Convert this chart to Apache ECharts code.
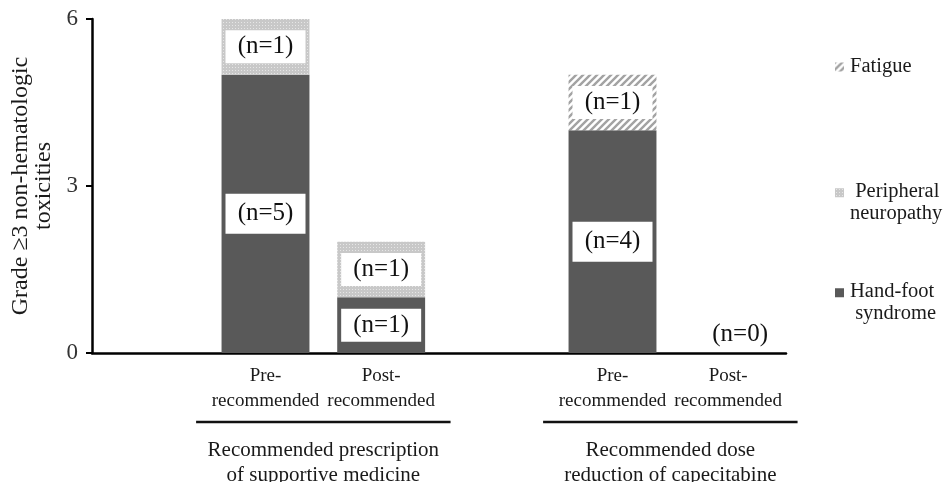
<!DOCTYPE html>
<html>
<head>
<meta charset="utf-8">
<script src="https://cdn.jsdelivr.net/npm/echarts@6/dist/echarts.min.js"></script>
<style>
  html, body { margin: 0; padding: 0; background: #fff; }
  #chart { width: 945px; height: 482px; }
</style>
</head>
<body>
<div id="chart"></div>
<script>
const categories = ['', 'Pre-\nrecommended', 'Post-\nrecommended', '', 'Pre-\nrecommended', 'Post-\nrecommended'];
const handFoot = [null, 5, 1, null, 4, 0];
const peripheral = [null, 1, 1, null, null, null];
const fatigue = [null, null, null, null, 1, null];
const yTicks = [0, 3, 6];
const groupLabels = ['Recommended prescription\nof supportive medicine', 'Recommended dose\nreduction of capecitabine'];
const groupSpans = [[1, 2], [4, 5]];

const FONT = '"Liberation Serif", "Times New Roman", serif';

// fill patterns
function dotPattern() {
  const c = document.createElement('canvas');
  c.width = 3; c.height = 3;
  const g = c.getContext('2d');
  g.fillStyle = '#c8c8c8';
  g.fillRect(0, 0, 3, 3);
  g.fillStyle = '#e6e6e6';
  g.fillRect(1, 1, 1, 1);
  return c;
}
function hatchPattern() {
  const c = document.createElement('canvas');
  c.width = 7; c.height = 7;
  const g = c.getContext('2d');
  g.fillStyle = '#fff';
  g.fillRect(0, 0, 7, 7);
  g.strokeStyle = '#a3a3a3';
  g.lineWidth = 2.4;
  g.beginPath();
  g.moveTo(-1, 8); g.lineTo(8, -1);
  g.moveTo(-1, 1); g.lineTo(1, -1);
  g.moveTo(6, 8); g.lineTo(8, 6);
  g.stroke();
  return c;
}

const colors = {
  handFoot: '#595959',
  peripheral: { image: dotPattern(), repeat: 'repeat' },
  fatigue: { image: hatchPattern(), repeat: 'repeat' }
};

const boxLabel = {
  show: true,
  position: 'inside',
  formatter: (p) => '(n=' + p.value + ')',
  backgroundColor: '#fff',
  color: '#111',
  fontFamily: FONT,
  fontSize: 25,
  width: 80,
  height: 33,
  lineHeight: 33,
  align: 'center',
  verticalAlign: 'middle'
};

// taller label boxes on the tall segments, bare text on the empty bar
function withLabels(values) {
  return values.map((v) => {
    if (v === 0) {
      return { value: 0, label: { position: 'top', distance: 2, offset: [12, 0], verticalAlign: 'bottom', backgroundColor: 'transparent' } };
    }
    if (v > 1) return { value: v, label: { height: 40, lineHeight: 40 } };
    return v;
  });
}

// icon with an invisible tail so the square sits beside the first text line
const topIcon = 'path://M0,0H10V10H0Z M0,33L10,33';

const legendBase = {
  orient: 'vertical',
  left: 830,
  itemWidth: 9,
  itemHeight: 9,
  itemGap: 0,
  itemStyle: { borderWidth: 0 },
  textStyle: { fontFamily: FONT, fontSize: 20.5, lineHeight: 22, color: '#1a1a1a', padding: [0, 0, 0, 1] }
};

const chart = echarts.init(document.getElementById('chart'));

chart.setOption({
  animation: false,
  grid: { left: 92, right: 159, top: 19, bottom: 129 },
  legend: [
    Object.assign({}, legendBase, { top: 51, data: [{ name: 'Fatigue', icon: 'rect' }] }),
    Object.assign({}, legendBase, { top: 176, itemHeight: 30, data: [{ name: 'Peripheral', icon: topIcon }], formatter: () => ' Peripheral\nneuropathy' }),
    Object.assign({}, legendBase, { top: 276, itemHeight: 30, data: [{ name: 'Hand-foot', icon: topIcon }], formatter: () => 'Hand-foot\n syndrome' })
  ],
  xAxis: {
    type: 'category',
    data: categories,
    axisLine: { lineStyle: { color: '#000', width: 2.5 } },
    axisTick: { show: false },
    axisLabel: {
      interval: 0,
      margin: 11,
      fontFamily: FONT,
      fontSize: 19,
      lineHeight: 25,
      color: '#1a1a1a'
    }
  },
  yAxis: {
    type: 'value',
    min: yTicks[0],
    max: yTicks[yTicks.length - 1],
    interval: yTicks[1] - yTicks[0],
    name: 'Grade \u22653 non-hematologic\ntoxicities',
    nameLocation: 'middle',
    nameGap: 35,
    nameTextStyle: { fontFamily: FONT, fontSize: 24, lineHeight: 23, color: '#1a1a1a', align: 'center' },
    axisLine: { show: true, lineStyle: { color: '#000', width: 2.5 } },
    axisTick: { show: true, length: 6, lineStyle: { color: '#000', width: 2 } },
    axisLabel: { margin: 14, fontFamily: FONT, fontSize: 23, color: '#333' },
    splitLine: { show: false }
  },
  series: [
    {
      name: 'Hand-foot',
      type: 'bar',
      stack: 'tox',
      barWidth: '76%',
      itemStyle: { color: colors.handFoot },
      label: boxLabel,
      data: withLabels(handFoot)
    },
    {
      name: 'Peripheral',
      type: 'bar',
      stack: 'tox',
      itemStyle: { color: colors.peripheral },
      label: boxLabel,
      data: peripheral
    },
    {
      name: 'Fatigue',
      type: 'bar',
      stack: 'tox',
      itemStyle: { color: colors.fatigue },
      label: boxLabel,
      data: fatigue
    }
  ]
});

// group underlines and captions, placed from the category scale
const base = chart.convertToPixel({ yAxisIndex: 0 }, 0);
const catW = chart.convertToPixel({ xAxisIndex: 0 }, 2) - chart.convertToPixel({ xAxisIndex: 0 }, 1);
const graphics = [];
groupSpans.forEach(([a, b], i) => {
  const xa = chart.convertToPixel({ xAxisIndex: 0 }, a);
  const xb = chart.convertToPixel({ xAxisIndex: 0 }, b);
  graphics.push({
    type: 'line',
    shape: { x1: xa - catW * 0.6, y1: base + 69, x2: xb + catW * 0.6, y2: base + 69 },
    style: { stroke: '#111', lineWidth: 2.5 }
  });
  graphics.push({
    type: 'text',
    x: (xa + xb) / 2,
    y: base + 85,
    style: {
      text: groupLabels[i],
      fontFamily: FONT,
      fontSize: 21,
      lineHeight: 25,
      fill: '#1a1a1a',
      align: 'center',
      verticalAlign: 'top'
    }
  });
});
chart.setOption({ graphic: graphics });
</script>
</body>
</html>
